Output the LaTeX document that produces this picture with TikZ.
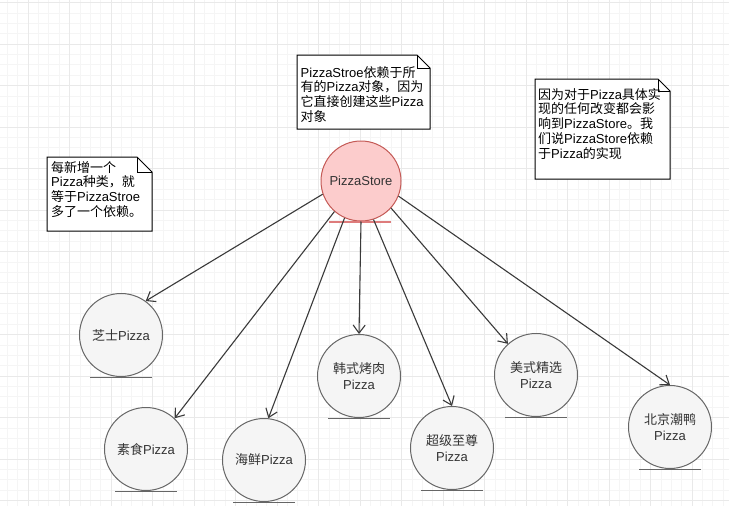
\documentclass[tikz,border=0pt]{standalone}
\usepackage{fontspec}
\setmainfont{Liberation Sans}
\newfontfamily\cjkfont{Noto Sans CJK SC}
\newcommand{\zh}[1]{{\cjkfont #1}}
\usetikzlibrary{arrows.meta}

\definecolor{gridlight}{HTML}{F5F5F5}
\definecolor{griddark}{HTML}{E9E9E9}
\definecolor{storefill}{HTML}{FCCCCC}
\definecolor{storeline}{HTML}{C45A56}
\definecolor{storeunder}{HTML}{DE7C7C}
\definecolor{pizzafill}{HTML}{F5F5F5}
\definecolor{pizzaline}{HTML}{666666}
\definecolor{textgray}{HTML}{333333}
\definecolor{arrowgray}{HTML}{3A3A3A}

\tikzset{
  gridminor/.style={draw=gridlight, line width=0.6pt},
  gridmajor/.style={draw=griddark, line width=0.8pt},
  storenode/.style={circle, draw=storeline, fill=storefill, line width=1pt,
    minimum size=80pt, inner sep=0pt, text=textgray, font=\fontsize{13}{16}\selectfont},
  pizzanode/.style={circle, draw=pizzaline, fill=pizzafill, line width=1pt,
    minimum size=83pt, inner sep=0pt, align=center, text=textgray,
    font=\fontsize{13}{16}\selectfont},
  underline/.style={draw=#1, line width=1.2pt},
  depend/.style={-{Straight Barb[length=8pt,width=12pt]}, draw=arrowgray, line width=1.1pt},
  noteframe/.style={draw=black, fill=white, line width=1pt},
  notetext/.style={anchor=north west, inner sep=0pt, align=left,
    font=\fontsize{13}{14.7}\selectfont},
}

\begin{document}
\begin{tikzpicture}[x=1pt, y=-1pt]

    % page and background grid
    \useasboundingbox (0,0) rectangle (729,506);
    \fill[white] (0,0) rectangle (729,506);
    \foreach \k in {0,...,71} {
        \draw[gridminor] ({-13.5+10.375*\k},0) -- ({-13.5+10.375*\k},506);
    }
    \foreach \k in {0,...,49} {
        \draw[gridminor] (0,{2.5+10.375*\k}) -- (729,{2.5+10.375*\k});
    }
    \foreach \k in {-1,...,17} {
        \draw[gridmajor] ({28+41.5*\k},0) -- ({28+41.5*\k},506);
    }
    \foreach \k in {-1,...,12} {
        \draw[gridmajor] (0,{44+41.5*\k}) -- (729,{44+41.5*\k});
    }

    % the store and the pizzas
    \node[storenode] (store) at (361,181) {PizzaStore};
    \draw[underline=storeunder] ([xshift=-32pt,yshift=-0.5pt]store.south) -- ([xshift=30pt,yshift=-0.5pt]store.south);

    \node[pizzanode] (cheese)   at (121,335) {\zh{芝士}Pizza};
    \node[pizzanode] (veggie)   at (146,449) {\zh{素食}Pizza};
    \node[pizzanode] (seafood)  at (264,460) {\zh{海鲜}Pizza};
    \node[pizzanode] (korean)   at (359,376) {\zh{韩式烤肉}\\Pizza};
    \node[pizzanode] (supreme)  at (452,448) {\zh{超级至尊}\\Pizza};
    \node[pizzanode] (american) at (536,375) {\zh{美式精选}\\Pizza};
    \node[pizzanode] (beijing)  at (670,427) {\zh{北京潮鸭}\\Pizza};

    \foreach \p in {cheese,veggie,seafood,korean,supreme,american,beijing} {
        \draw[underline=pizzaline] ([xshift=-31pt,yshift=-0.5pt]\p.south) -- ([xshift=31pt,yshift=-0.5pt]\p.south);
    }

    % dependencies
    \draw[depend] (store.199) -- (cheese.54);
    \draw[depend] (store.229) -- (veggie.47);
    \draw[depend] (store.246) -- (seafood.84);
    \draw[depend] (store.270) -- (korean.90);
    \draw[depend] (store.288) -- (supreme.90);
    \draw[depend] (store.318) -- (american.132);
    \draw[depend] (store.338) -- (beijing.90);

    % notes
    \draw[noteframe] (297,55) -- (417,55) -- (430,68) -- (430,129) -- (297,129) -- cycle;
    \draw[noteframe, fill=none] (417,55) -- (417,68) -- (430,68);
    \node[notetext] (depnote) at (300.5,66) {PizzaStroe\zh{依赖于所}\\\zh{有的}Pizza\zh{对象，因为}\\\zh{它直接创建这些}Pizza\\\zh{对象}};

    \draw[noteframe] (535,79) -- (658,79) -- (670,91) -- (670,179) -- (535,179) -- cycle;
    \draw[noteframe, fill=none] (658,79) -- (658,91) -- (670,91);
    \node[notetext] (changenote) at (538,88) {\zh{因为对于}Pizza\zh{具体实}\\\zh{现的任何改变都会影}\\\zh{响到}PizzaStore\zh{。我}\\\zh{们说}PizzaStore\zh{依赖}\\\zh{于}Pizza\zh{的实现}};

    \draw[noteframe] (47,157) -- (137,157) -- (152,172) -- (152,231) -- (47,231) -- cycle;
    \draw[noteframe, fill=none] (137,157) -- (137,172) -- (152,172);
    \node[notetext] (newnote) at (51,161) {\zh{每新增一个}\\Pizza\zh{种类，就}\\\zh{等于}PizzaStroe\\\zh{多了一个依赖。}};

\end{tikzpicture}
\end{document}
